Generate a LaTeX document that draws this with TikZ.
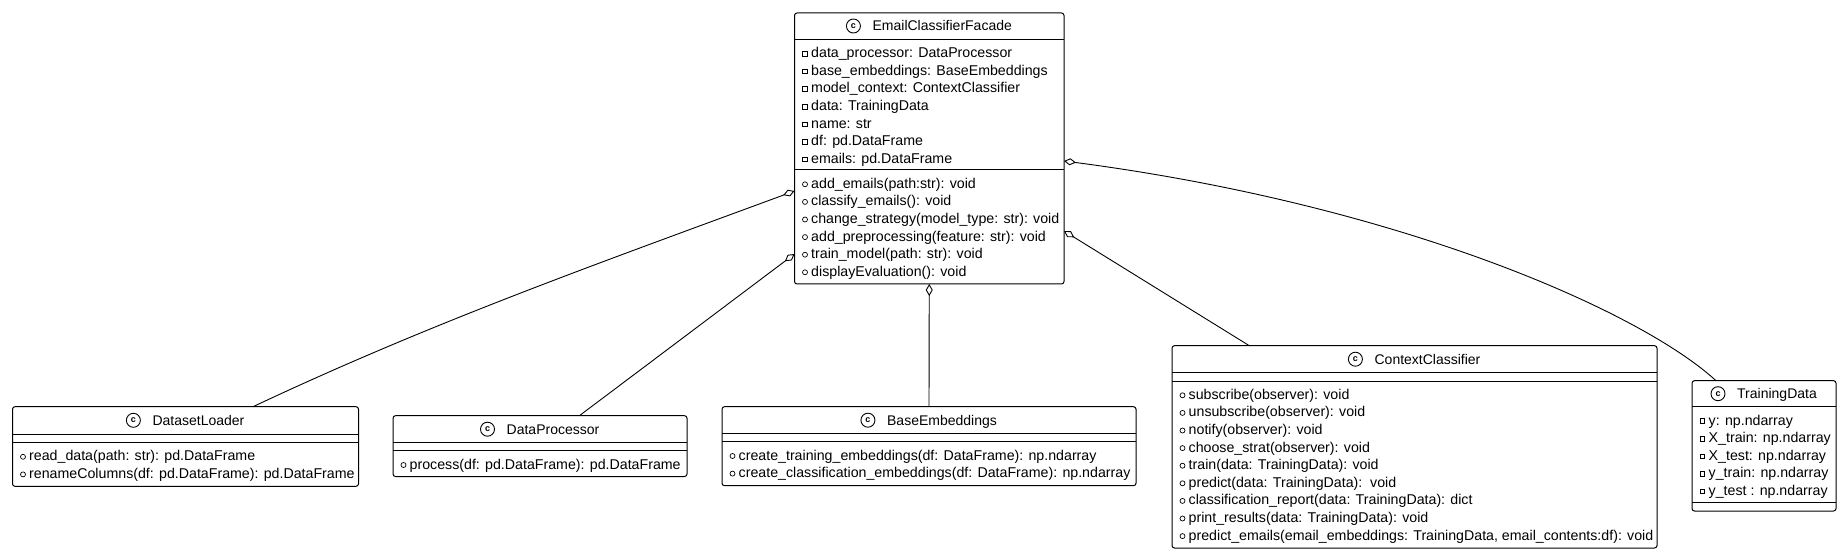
\documentclass[tikz,border=0pt]{standalone}
\usepackage{fontspec}
\setmainfont{Liberation Sans}
\usetikzlibrary{arrows.meta,calc}
\begin{document}
\begin{tikzpicture}[x=1pt,y=-1pt,
  cls/.style={draw, line width=1pt, rounded corners=2.5pt, inner sep=0pt, outer sep=0pt},
  sep/.style={line width=1pt},
  ttl/.style={inner sep=0pt, anchor=base, font=\fontsize{14}{16}\selectfont},
  mem/.style={inner sep=0pt, anchor=base west, font=\fontsize{14.2}{17}\selectfont},
  cicon/.style={circle, draw, line width=0.9pt, minimum size=14pt, inner sep=0pt, font=\fontsize{9}{9}\selectfont\bfseries},
  priv/.style={rectangle, draw, line width=0.7pt, minimum size=4.6pt, inner sep=0pt},
  pub/.style={circle, draw, line width=0.7pt, minimum size=5pt, inner sep=0pt},
  agg/.style={line width=0.9pt, {Diamond[fill=white,length=12pt,width=7pt]}-}
]
\fill[white] (0,0) rectangle (1842,553);
\useasboundingbox (0,0) rectangle (1842,553);

% ---------- boxes ----------
\node[cls, minimum width=269.5pt, minimum height=271pt] (facade) at (929.25,148.5) {};
\node[cls, minimum width=346pt, minimum height=79.6pt] (loader) at (185.5,446.5) {};
\node[cls, minimum width=294pt, minimum height=60.8pt] (proc) at (540,446.1) {};
\node[cls, minimum width=414pt, minimum height=79pt] (embed) at (929,446.2) {};
\node[cls, minimum width=485pt, minimum height=202.3pt] (ctx) at (1414.5,446.85) {};
\node[cls, minimum width=144pt, minimum height=130.3pt] (td) at (1764,445.85) {};

% ---------- dividers ----------
\draw[sep] (facade.west |- 0,39.5) -- (facade.east |- 0,39.5);
\draw[sep] (facade.west |- 0,170) -- (facade.east |- 0,170);
\draw[sep] (loader.west |- 0,434) -- (loader.east |- 0,434);
\draw[sep] (loader.west |- 0,442.5) -- (loader.east |- 0,442.5);
\draw[sep] (proc.west |- 0,442.7) -- (proc.east |- 0,442.7);
\draw[sep] (proc.west |- 0,450.7) -- (proc.east |- 0,450.7);
\draw[sep] (embed.west |- 0,433.7) -- (embed.east |- 0,433.7);
\draw[sep] (embed.west |- 0,441.7) -- (embed.east |- 0,441.7);
\draw[sep] (ctx.west |- 0,372.7) -- (ctx.east |- 0,372.7);
\draw[sep] (ctx.west |- 0,381) -- (ctx.east |- 0,381);
\draw[sep] (td.west |- 0,406.7) -- (td.east |- 0,406.7);
\draw[sep] (td.west |- 0,502.8) -- (td.east |- 0,502.8);

% ---------- titles ----------
\node[ttl] (facadeT) at (942.25,31) {EmailClassifierFacade};
\node[cicon] (facadeC) at ($(facadeT.base west)+(-19,-5)$) {c};
\node[ttl] (loaderT) at (198.5,425.3) {DatasetLoader};
\node[cicon] (loaderC) at ($(loaderT.base west)+(-19,-5)$) {c};
\node[ttl] (procT) at (553,434.2) {DataProcessor};
\node[cicon] (procC) at ($(procT.base west)+(-19,-5)$) {c};
\node[ttl] (embedT) at (942,425.2) {BaseEmbeddings};
\node[cicon] (embedC) at ($(embedT.base west)+(-19,-5)$) {c};
\node[ttl] (ctxT) at (1427.5,364.2) {ContextClassifier};
\node[cicon] (ctxC) at ($(ctxT.base west)+(-19,-5)$) {c};
\node[ttl] (tdT) at (1777,398.7) {TrainingData};
\node[cicon] (tdC) at ($(tdT.base west)+(-19,-5)$) {c};

% ---------- members ----------
\foreach \t [count=\i from 0] in {
  {data\_processor: DataProcessor},
  {base\_embeddings: BaseEmbeddings},
  {model\_context: ContextClassifier},
  {data: TrainingData},
  {name: str},
  {df: pd.DataFrame},
  {emails: pd.DataFrame}}{
  \node[mem] (fa\i) at (811,57.8+17.6*\i) {\t};
  \node[priv] (fai\i) at (805,53.8+17.6*\i) {};
}
\foreach \t [count=\i from 0] in {
  {add\_emails(path:str): void},
  {classify\_emails(): void},
  {change\_strategy(model\_type: str): void},
  {add\_preprocessing(feature: str): void},
  {train\_model(path: str): void},
  {displayEvaluation(): void}}{
  \node[mem] (fm\i) at (811,188.3+17.6*\i) {\t};
  \node[pub] (fmi\i) at (805,184.3+17.6*\i) {};
}
\foreach \t [count=\i from 0] in {
  {read\_data(path: str): pd.DataFrame},
  {renameColumns(df: pd.DataFrame): pd.DataFrame}}{
  \node[mem] (lm\i) at (29,460.8+17.6*\i) {\t};
  \node[pub] (lmi\i) at (23,456.8+17.6*\i) {};
}
\node[mem] (pm0) at (409.5,469) {process(df: pd.DataFrame): pd.DataFrame};
\node[pub] (pmi0) at (403.5,465) {};
\foreach \t [count=\i from 0] in {
  {create\_training\_embeddings(df: DataFrame): np.ndarray},
  {create\_classification\_embeddings(df: DataFrame): np.ndarray}}{
  \node[mem] (em\i) at (738.5,460+17.6*\i) {\t};
  \node[pub] (emi\i) at (732.5,456+17.6*\i) {};
}
\foreach \t [count=\i from 0] in {
  {subscribe(observer): void},
  {unsubscribe(observer): void},
  {notify(observer): void},
  {choose\_strat(observer): void},
  {train(data: TrainingData): void},
  {predict(data: TrainingData):\ \ void},
  {classification\_report(data: TrainingData): dict},
  {print\_results(data: TrainingData): void},
  {predict\_emails(email\_embeddings: TrainingData, email\_contents:df): void}}{
  \node[mem] (cm\i) at (1188.5,399.3+17.6*\i) {\t};
  \node[pub] (cmi\i) at (1182.5,395.3+17.6*\i) {};
}
\foreach \t [count=\i from 0] in {
  {y: np.ndarray},
  {X\_train: np.ndarray},
  {X\_test: np.ndarray},
  {y\_train: np.ndarray},
  {y\_test : np.ndarray}}{
  \node[mem] (ta\i) at (1708.5,425+17.6*\i) {\t};
  \node[priv] (tai\i) at (1702.5,421+17.6*\i) {};
}

% ---------- aggregations ----------
\draw[agg] ($(facade.north west)+(0,178)$) .. controls (594,265) and (433,322) .. (loader.north -| 253,0);
\draw[agg] ($(facade.north west)+(0,241)$) -- (proc.north -| 579.4,0);
\draw[agg] (facade.south) -- (embed.north);
\draw[agg] ($(facade.north east)+(0,218)$) -- (ctx.north -| 1249.3,0);
\draw[agg] ($(facade.north east)+(0,148)$) .. controls (1400,205) and (1640,311) .. (td.north -| 1716,0);
\end{tikzpicture}
\end{document}
